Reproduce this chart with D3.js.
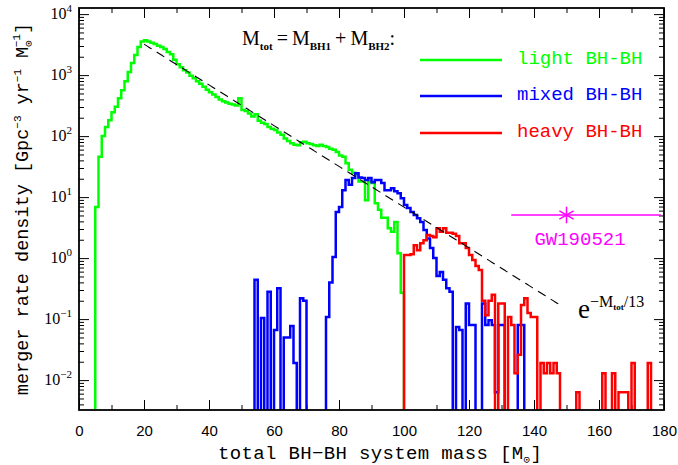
<!DOCTYPE html>
<html>
<head>
<meta charset="utf-8">
<script src="https://d3js.org/d3.v7.min.js"></script>
<style>
  body { margin: 0; background: #fff; }
  .tick line { stroke: #000; stroke-width: 1; }
  .tick text { font-family: "Liberation Sans", Arial, sans-serif; font-size: 15px; fill: #000; }
  .mono { font-family: "Liberation Mono", "Courier New", monospace; }
  .serif { font-family: "Liberation Serif", "Times New Roman", serif; }
</style>
</head>
<body>
<svg id="chart" width="678" height="465"></svg>
<script>
// merger rate per 1 Msun bin, starting at the given mass
var lightStart = 5;
var lightRate = [6.9, 46, 100, 141, 182, 245, 302, 417, 562, 794,
  1120, 1580, 2140, 2880, 3550, 3720, 3550, 3390, 3240, 3020,
  2880, 2690, 2400, 2190, 1780, 1510, 1350, 1200, 1100, 977,
  891, 794, 724, 646, 575, 525, 479, 437, 398, 372,
  355, 339, 331, 316, 417, 269, 257, 234, 209, 229,
  178, 166, 158, 141, 132, 126, 115, 105, 91, 83,
  76, 72, 71, 79, 81, 76, 74, 71, 69, 72,
  69, 66, 62, 60, 55, 48, 46, 36, 28, 25,
  24, 18, 18, 8.9, 18, 17, 7.9, 6.2, 4.6, 4.6,
  3.1, 2.7, 3.9, 1.2, 0.27];

var mixedStart = 54;
var mixedRate = [0.44, 0, 0.104, 0, 0.28, 0, 0.066, 0.32, 0, 0.05,
  0.05, 0.077, 0.019, 0, 0.22, 0.2, 0, 0, 0, 0,
  0, 0, 0.108, 0.4, 1.04, 5.7, 6.9, 13, 19, 16,
  20.5, 24.7, 21, 20.5, 19, 20.5, 17.6, 19, 19, 17,
  13, 13, 14, 12.5, 11.6, 9.6, 7.4, 6.6, 5.7, 5.1,
  4.5, 3.9, 2.9, 2.1, 1.46, 1.0, 0.51, 0.59, 0.44, 0.32,
  0.28, 0, 0.074, 0.066, 0, 0.18, 0.08, 0.08, 0, 0,
  0.18, 0.08, 0.096, 0.08, 0.0063, 0.08, 0.08, 0, 0, 0,
  0, 0.08, 0.08];

var heavyStart = 100;
var heavyRate = [1.12, 1.12, 1.16, 1.63, 1.35, 1.76, 1.97, 2.4, 2.3, 2.2,
  3.1, 2.7, 3.1, 2.6, 2.6, 2.5, 2.3, 1.76, 1.76, 1.46,
  1.12, 0.93, 0.74, 0.64, 0.2, 0.116, 0.2, 0.25, 0, 0.18,
  0.18, 0, 0.108, 0.08, 0.013, 0.026, 0.17, 0.22, 0.126, 0.108,
  0.108, 0, 0.019, 0.013, 0.019, 0.013, 0.019, 0.013, 0, 0,
  0, 0, 0, 0.0063, 0, 0, 0, 0, 0, 0,
  0, 0.013, 0, 0, 0.013, 0, 0.0063, 0.0063, 0.0063, 0,
  0.019, 0, 0, 0, 0, 0.019];

var seriesNames = ["light BH-BH", "mixed BH-BH", "heavy BH-BH"];
var seriesColors = ["#00ff00", "#0000ff", "#ff0000"];

var xTicks = [0, 20, 40, 60, 80, 100, 120, 140, 160, 180];
var xMinor = [10, 30, 50, 70, 90, 110, 130, 150, 170];
var yExps = [-2, -1, 0, 1, 2, 3, 4];

// exponential guide  A * exp(-M/13)
var fitNorm = 15000, fitScale = 13, fitFrom = 20, fitTo = 148.5;

// GW190521 point with mass range
var gwName = "GW190521";
var gwMass = 150, gwLow = 133, gwHigh = 179, gwRate = 5.1;

var svg = d3.select("#chart");
var L = 79, R = 664, T = 8, B = 410;

var x = d3.scaleLinear().domain([0, 180]).range([L, R]);
var y = d3.scaleLog().domain([Math.pow(10, -2.49), Math.pow(10, 4.1)]).range([B, T]);

svg.append("defs").append("clipPath").attr("id", "plotclip")
  .append("rect").attr("x", L).attr("y", T).attr("width", R - L).attr("height", B - T);

// minor log ticks
var yMinor = [];
for (var d = -3; d <= 4; d++) {
  for (var k = 2; k <= 9; k++) {
    var v = k * Math.pow(10, d);
    if (v > y.domain()[0] && v < y.domain()[1]) yMinor.push(v);
  }
}
var yMajor = yExps.map(function(e) { return Math.pow(10, e); });

// axes, ticks pointing inward
svg.append("g").attr("transform", "translate(0," + B + ")")
  .call(d3.axisBottom(x).tickValues(xTicks).tickSize(-10).tickPadding(15).tickFormat(d3.format("d")));
svg.append("g").attr("transform", "translate(0," + B + ")")
  .call(d3.axisBottom(x).tickValues(xMinor).tickSize(-5).tickFormat(""));
svg.append("g").attr("transform", "translate(0," + T + ")")
  .call(d3.axisTop(x).tickValues(xTicks).tickSize(-10).tickFormat(""));
svg.append("g").attr("transform", "translate(0," + T + ")")
  .call(d3.axisTop(x).tickValues(xMinor).tickSize(-5).tickFormat(""));
svg.append("g").attr("transform", "translate(" + L + ",0)")
  .call(d3.axisLeft(y).tickValues(yMajor).tickSize(-10).tickFormat(""));
svg.append("g").attr("transform", "translate(" + L + ",0)")
  .call(d3.axisLeft(y).tickValues(yMinor).tickSize(-5).tickFormat(""));
svg.append("g").attr("transform", "translate(" + R + ",0)")
  .call(d3.axisRight(y).tickValues(yMajor).tickSize(-10).tickFormat(""));
svg.append("g").attr("transform", "translate(" + R + ",0)")
  .call(d3.axisRight(y).tickValues(yMinor).tickSize(-5).tickFormat(""));
svg.selectAll(".domain").remove();

// y tick labels 10^n
yExps.forEach(function(e) {
  var t = svg.append("text").attr("class", "serif")
    .attr("x", 72).attr("y", y(Math.pow(10, e)) + 5)
    .attr("text-anchor", "end").style("font-size", "16px");
  t.append("tspan").text("10");
  t.append("tspan").attr("dy", -7).style("font-size", "11px")
    .text(e < 0 ? "\u2212" + (-e) : String(e));
});

// histograms
function stepPoints(start, vals) {
  var pts = [[start, 0]];
  vals.forEach(function(v, i) { pts.push([start + i, v]); });
  pts.push([start + vals.length, 0]);
  return pts;
}
var line = d3.line()
  .x(function(p) { return x(p[0]); })
  .y(function(p) { return p[1] > 0 ? y(p[1]) : B + 3; })
  .curve(d3.curveStepAfter);

var plot = svg.append("g").attr("clip-path", "url(#plotclip)");
var series = [[lightStart, lightRate], [mixedStart, mixedRate], [heavyStart, heavyRate]];
series.forEach(function(s, i) {
  plot.append("path")
    .attr("d", line(stepPoints(s[0], s[1])))
    .attr("fill", "none")
    .attr("stroke", seriesColors[i])
    .attr("stroke-width", 2.5)
    .attr("stroke-linejoin", "miter");
});

// dashed exponential
var fitPts = d3.range(fitFrom, fitTo + 0.01, 0.5).map(function(m) { return [m, fitNorm * Math.exp(-m / fitScale)]; });
plot.append("path")
  .attr("d", d3.line().x(function(p) { return x(p[0]); }).y(function(p) { return y(p[1]); })(fitPts))
  .attr("fill", "none").attr("stroke", "#000").attr("stroke-width", 1.1)
  .attr("stroke-dasharray", "9,6");

// GW190521
svg.append("line")
  .attr("x1", x(gwLow)).attr("x2", x(gwHigh))
  .attr("y1", y(gwRate)).attr("y2", y(gwRate))
  .attr("stroke", "#ff00ff").attr("stroke-width", 1.5);
svg.append("path")
  .attr("transform", "translate(" + x(gwMass) + "," + y(gwRate) + ")")
  .attr("d", d3.symbol(d3.symbolAsterisk, 190)())
  .attr("fill", "none").attr("stroke", "#ff00ff").attr("stroke-width", 1.5);
svg.append("text").attr("class", "mono")
  .attr("x", 580).attr("y", 245).attr("text-anchor", "middle")
  .style("font-size", "19px").attr("fill", "#ff00ff").text(gwName);

// legend
var legendY = [60, 96, 133];
seriesNames.forEach(function(n, i) {
  svg.append("line").attr("x1", 420).attr("x2", 502)
    .attr("y1", legendY[i]).attr("y2", legendY[i])
    .attr("stroke", seriesColors[i]).attr("stroke-width", 2.5);
  svg.append("text").attr("class", "mono")
    .attr("x", 517).attr("y", legendY[i] + 4)
    .style("font-size", "19px").attr("fill", seriesColors[i]).text(n);
});

// M_tot = M_BH1 + M_BH2 :
var eq = svg.append("text").attr("class", "serif").attr("x", 242).attr("y", 45).style("font-size", "20px");
function sub(t, s) {
  t.append("tspan").attr("dy", 5).style("font-size", "11px").style("font-weight", "bold").text(s);
}
eq.append("tspan").text("M");
sub(eq, "tot");
eq.append("tspan").attr("dy", -5).text("\u2009=\u2009M");
sub(eq, "BH1");
eq.append("tspan").attr("dy", -5).text("\u2009+\u2009M");
sub(eq, "BH2");
eq.append("tspan").attr("dy", -5).text(":");

// e^{-M_tot/13}
var ex = svg.append("text").attr("class", "serif").attr("x", 578).attr("y", 318).style("font-size", "27px");
ex.append("tspan").text("e");
ex.append("tspan").attr("dy", -11).style("font-size", "16px").text("\u2212M");
ex.append("tspan").attr("dy", 3).style("font-size", "9px").style("font-weight", "bold").text("tot");
ex.append("tspan").attr("dy", -3).style("font-size", "16px").text("/13");

// axis titles
var xl = svg.append("text").attr("class", "mono").attr("x", 218).attr("y", 459)
  .style("font-size", "19px").style("letter-spacing", "0.35px");
xl.append("tspan").text("total BH\u2212BH system mass [M");
xl.append("tspan").attr("dy", 4).style("font-size", "11px").text("\u2299");
xl.append("tspan").attr("dy", -4).text("]");

var yl = svg.append("text").attr("class", "mono")
  .attr("transform", "translate(28,209) rotate(-90)")
  .attr("text-anchor", "middle").style("font-size", "18.5px");
yl.append("tspan").text("merger rate density [Gpc");
yl.append("tspan").attr("dy", -7).style("font-size", "11px").text("\u22123");
yl.append("tspan").attr("dy", 7).text(" yr");
yl.append("tspan").attr("dy", -7).style("font-size", "11px").text("\u22121");
yl.append("tspan").attr("dy", 7).text(" M");
yl.append("tspan").attr("dy", 4).style("font-size", "11px").text("\u2299");
yl.append("tspan").attr("dx", -7).attr("dy", -12).style("font-size", "11px").text("\u22121");
yl.append("tspan").attr("dy", 8).text("]");

// frame
svg.append("rect").attr("x", L).attr("y", T).attr("width", R - L).attr("height", B - T)
  .attr("fill", "none").attr("stroke", "#000").attr("stroke-width", 1.8);
</script>
</body>
</html>
